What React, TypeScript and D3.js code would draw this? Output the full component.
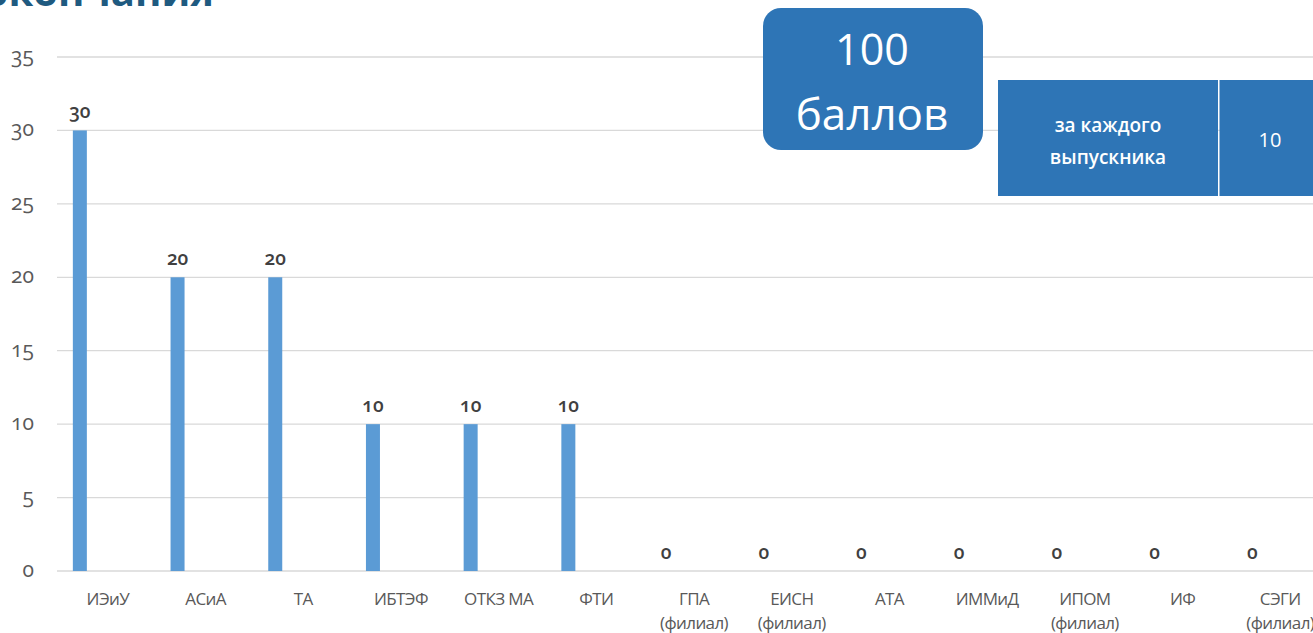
import React from "react";
import * as d3 from "d3";

const categories: string[][] = [
  ["ИЭиУ"], ["АСиА"], ["ТА"], ["ИБТЭФ"], ["ОТКЗ МА"], ["ФТИ"],
  ["ГПА", "(филиал)"], ["ЕИСН", "(филиал)"], ["АТА"], ["ИММиД"],
  ["ИПОМ", "(филиал)"], ["ИФ"], ["СЭГИ", "(филиал)"],
];
const values: number[] = [30, 20, 20, 10, 10, 10, 0, 0, 0, 0, 0, 0, 0];
const yTicks: number[] = [0, 5, 10, 15, 20, 25, 30, 35];
const titleText = "окончания";
const badgeLines = ["100", "баллов"];
const tableLeft = ["за каждого", "выпускника"];
const tableRight = "10";

const W = 1313;
const H = 633;

export default function App() {
  const keys = categories.map((c) => c.join(" "));
  const x = d3.scaleBand<string>().domain(keys).range([59, 59 + 13 * 97.7]).padding(0);
  const y = d3.scaleLinear().domain([0, 35]).range([571, 57]);
  const bw = x.bandwidth();
  const barW = 14;
  const barOffset = -28;
  const blue = "#5b9bd5";
  const boxBlue = "#2e75b6";
  const font = "'Open Sans', sans-serif";

  return (
    <svg
      width={W}
      height={H}
      style={{ position: "absolute", left: 0, top: 0, background: "#fff" }}
      fontFamily={font}
    >
      {/* title (cut off at the top, as in the source) */}
      <text x={214} y={6} textAnchor="end" fontSize={40} fontWeight={700} fill="#1f5a80">
        {titleText}
      </text>

      {/* gridlines */}
      {yTicks.map((t) => (
        <line key={t} x1={57} x2={W} y1={y(t)} y2={y(t)} stroke="#d9d9d9" strokeWidth={1.3} />
      ))}
      {/* y tick labels */}
      {yTicks.map((t) => (
        <text
          key={"l" + t}
          x={34}
          y={y(t) + 6}
          textAnchor="end"
          fontSize={21}
          fill="#595959"
          style={{ fontVariantNumeric: "oldstyle-nums" }}
        >
          {t}
        </text>
      ))}

      {/* bars */}
      {values.map((v, i) => {
        const cx = (x(keys[i]) as number) + bw / 2 + barOffset;
        return (
          <g key={i}>
            <rect x={cx - barW / 2} y={y(v)} width={barW} height={y(0) - y(v)} fill={blue} />
            <text
              x={cx}
              y={y(v) - 12}
              textAnchor="middle"
              fontSize={19}
              fontWeight={600}
              fill="#404040"
              style={{ fontVariantNumeric: "oldstyle-nums" }}
            >
              {v}
            </text>
          </g>
        );
      })}

      {/* category labels */}
      {categories.map((c, i) => {
        const cx = (x(keys[i]) as number) + bw / 2;
        return (
          <text key={"c" + i} textAnchor="middle" fontSize={17} fill="#595959" letterSpacing={-0.6}>
            {c.map((line, j) => (
              <tspan key={j} x={cx} y={605 + j * 24}>
                {line}
              </tspan>
            ))}
          </text>
        );
      })}

      {/* badge */}
      <rect x={763} y={8} width={220} height={142} rx={18} ry={18} fill={boxBlue} />
      <text x={872} y={65} textAnchor="middle" fontSize={43} fill="#fff">
        {badgeLines[0]}
      </text>
      <text x={872} y={130} textAnchor="middle" fontSize={44} fill="#fff">
        {badgeLines[1]}
      </text>

      {/* table */}
      <rect x={998} y={80} width={220} height={116} fill={boxBlue} />
      <rect x={1219.5} y={80} width={W - 1219.5} height={116} fill={boxBlue} />
      <text textAnchor="middle" fontSize={19} fill="#fff" fontWeight={600}>
        {tableLeft.map((l, j) => (
          <tspan key={j} x={1108} y={132 + j * 32}>
            {l}
          </tspan>
        ))}
      </text>
      <text x={1270} y={147} textAnchor="middle" fontSize={20} fill="#fff">
        {tableRight}
      </text>
    </svg>
  );
}
